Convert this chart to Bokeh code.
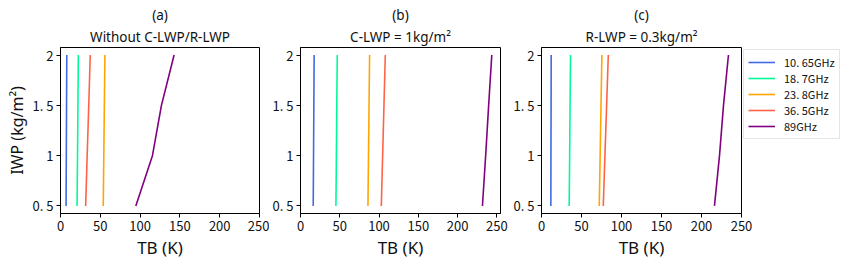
from bokeh.plotting import figure
from bokeh.layouts import row
from bokeh.models import Title, Legend, LegendItem, FixedTicker, Range1d
from bokeh.embed import file_html
from bokeh.resources import INLINE

# ---------------- data ----------------
iwp = [0.5, 1.0, 1.5, 2.0]
freq_labels = ["10. 65GHz", "18. 7GHz", "23. 8GHz", "36. 5GHz", "89GHz"]
colors = ["#4169E1", "#00FA9A", "#FFA500", "#FF6347", "#800080"]

x_ticks = [0, 50, 100, 150, 200, 250]
y_ticks = [0.5, 1.0, 1.5, 2.0]
y_tick_labels = ["0. 5", "1", "1. 5", "2"]

# (a) Without C-LWP/R-LWP
tb_a_10 = [7.0, 7.3, 7.6, 7.9]
tb_a_18 = [20.8, 21.4, 21.9, 22.4]
tb_a_23 = [53.7, 54.4, 55.1, 55.8]
tb_a_36 = [31.6, 33.5, 35.5, 37.4]
tb_a_89 = [94.6, 115.5, 126.8, 142.7]

# (b) C-LWP = 1 kg/m2
tb_b_10 = [16.2, 16.6, 17.0, 17.4]
tb_b_18 = [45.1, 45.7, 46.2, 46.8]
tb_b_23 = [85.9, 86.6, 87.3, 88.0]
tb_b_36 = [102.9, 104.6, 106.3, 108.0]
tb_b_89 = [231.7, 235.8, 239.6, 243.6]

# (c) R-LWP = 0.3 kg/m2
tb_c_10 = [11.7, 11.8, 12.0, 12.1]
tb_c_18 = [34.6, 35.2, 35.7, 36.3]
tb_c_23 = [72.2, 73.3, 74.4, 75.5]
tb_c_36 = [77.2, 79.3, 81.4, 83.5]
tb_c_89 = [216.2, 222.5, 227.5, 233.7]

panel_tags = ["(a)", "(b)", "(c)"]
panel_titles = ["Without C-LWP/R-LWP", "C-LWP = 1kg/m\u00b2", "R-LWP = 0.3kg/m\u00b2"]
x_max = [250, 254.7, 250]

series = [
    [tb_a_10, tb_a_18, tb_a_23, tb_a_36, tb_a_89],
    [tb_b_10, tb_b_18, tb_b_23, tb_b_36, tb_b_89],
    [tb_c_10, tb_c_18, tb_c_23, tb_c_36, tb_c_89],
]

TICK_FONT = "Noto Sans CJK SC"
LABEL_FONT = "Noto Sans"

FRAME_H = 166
TOP = 47
BOTTOM = 45

layouts = [
    dict(left=60, frame=199, right=10),
    dict(left=30, frame=200, right=10),
    dict(left=29, frame=200, right=97),
]


def make_panel(i):
    lay = layouts[i]
    p = figure(
        frame_width=lay["frame"],
        frame_height=FRAME_H,
        x_range=Range1d(0, x_max[i]),
        y_range=Range1d(0.425, 2.075),
        output_backend="svg",
        toolbar_location=None,
        title=panel_tags[i],
        min_border_left=lay["left"],
        min_border_right=lay["right"],
        min_border_top=TOP,
        min_border_bottom=BOTTOM,
    )
    p.title.align = "center"
    p.title.text_font = LABEL_FONT
    p.title.text_font_size = "13.5px"
    p.title.text_font_style = "normal"
    p.title.text_color = "#111111"
    p.title.standoff = 2
    p.add_layout(
        Title(text=panel_titles[i], align="center", text_font=LABEL_FONT,
              text_font_size="13.5px", text_font_style="normal",
              text_color="#111111", standoff=3),
        "above",
    )

    p.grid.visible = False
    p.outline_line_color = "black"
    p.outline_line_width = 1
    p.background_fill_color = "white"
    p.border_fill_color = "white"

    for ax in (p.xaxis[0], p.yaxis[0]):
        ax.axis_line_color = "black"
        ax.major_tick_line_color = "black"
        ax.major_tick_out = 4
        ax.major_tick_in = 0
        ax.minor_tick_line_color = None
        ax.major_label_text_font = TICK_FONT
        ax.major_label_text_font_size = "13px"
        ax.major_label_text_color = "#111111"
        ax.major_label_standoff = 3
        ax.axis_label_text_font = LABEL_FONT
        ax.axis_label_text_font_style = "normal"
        ax.axis_label_text_font_size = "17px"
        ax.axis_label_text_color = "#111111"
        ax.axis_label_standoff = 2

    p.xaxis.ticker = FixedTicker(ticks=x_ticks)
    p.yaxis.ticker = FixedTicker(ticks=y_ticks)
    p.yaxis.major_label_overrides = {t: s for t, s in zip(y_ticks, y_tick_labels)}
    p.xaxis.axis_label = "TB (K)"
    if i == 0:
        p.yaxis.axis_label = "IWP (kg/m\u00b2)"
        p.yaxis.axis_label_text_font_size = "16px"

    renderers = []
    for vals, col in zip(series[i], colors):
        r = p.line(vals, iwp, line_color=col, line_width=1.6)
        renderers.append(r)

    if i == 2:
        legend = Legend(
            items=[LegendItem(label=lab, renderers=[r]) for lab, r in zip(freq_labels, renderers)],
            location="top_left",
            margin=2,
            padding=4,
            spacing=0,
            glyph_width=27,
            glyph_height=16,
            label_height=16,
            label_standoff=9,
            label_text_font=TICK_FONT,
            label_text_font_size="11px",
            label_text_color="#111111",
            border_line_color="#cccccc",
            border_line_width=1,
            background_fill_color="white",
        )
        p.add_layout(legend, "right")
    return p


panels = [make_panel(i) for i in range(3)]
layout = row(*panels, spacing=0)

open("out.html", "w").write(file_html(layout, INLINE))
